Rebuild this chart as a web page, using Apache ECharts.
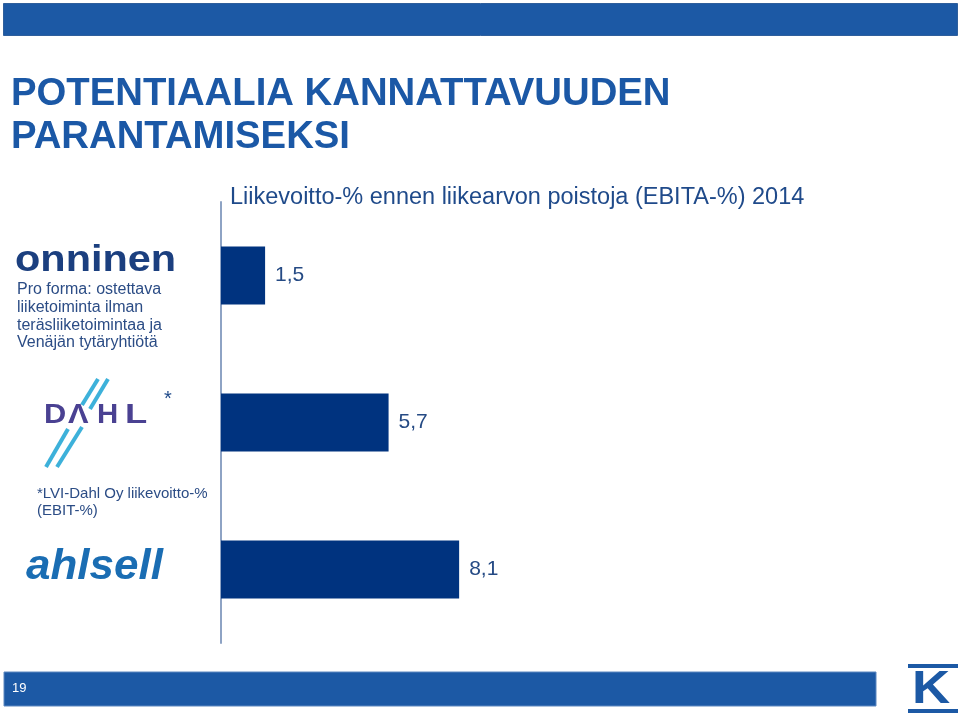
<!DOCTYPE html>
<html>
<head>
<meta charset="utf-8">
<script src="https://cdn.jsdelivr.net/npm/echarts@6/dist/echarts.min.js"></script>
<style>
html,body{margin:0;padding:0;background:#fff;}
#main{width:960px;height:716px;}
</style>
</head>
<body>
<div id="main"></div>
<script>
// Data
const categories = ['Onninen', 'LVI-Dahl', 'Ahlsell'];
const ebitaValues = [1.5, 5.7, 8.1];
const titleLines = ['POTENTIAALIA KANNATTAVUUDEN', 'PARANTAMISEKSI'];
const subtitleText = 'Liikevoitto-% ennen liikearvon poistoja (EBITA-%) 2014';
const onninenNote = ['Pro forma: ostettava', 'liiketoiminta ilman', 'teräsliiketoimintaa ja', 'Venäjän tytäryhtiötä'];
const dahlNote = ['*LVI-Dahl Oy liikevoitto-%', '(EBIT-%)'];
const pageNumber = '19';

const FONT = 'Liberation Sans, Arial, sans-serif';
const chart = echarts.init(document.getElementById('main'), null, {renderer: 'canvas'});

const option = {
  backgroundColor: '#ffffff',
  animation: false,
  title: {
    text: titleLines.join('\n'),
    left: 6,
    top: 68,
    textStyle: {
      fontFamily: FONT, fontSize: 38.3, fontWeight: 'bold', color: '#1b58a6', lineHeight: 43
    }
  },
  grid: {left: 221, top: 202, width: 588, height: 441, containLabel: false},
  xAxis: {
    type: 'value', min: 0, max: 20, show: false,
    splitLine: {show: false}
  },
  yAxis: {
    type: 'category', data: categories, inverse: true,
    axisLine: {show: true, lineStyle: {color: '#8ea3c4', width: 2}},
    axisTick: {show: false},
    axisLabel: {show: false}
  },
  series: [{
    type: 'bar',
    data: ebitaValues,
    barWidth: 58,
    itemStyle: {color: '#00337f'},
    label: {
      show: true, position: 'right', distance: 10,
      fontFamily: FONT, fontSize: 21, color: '#254a84',
      formatter: p => String(p.value).replace('.', ',')
    }
  }],
  graphic: [
    // top banner
    {type: 'rect', shape: {x: 3.5, y: 3.5, width: 954, height: 32},
     style: {fill: '#1c59a5', stroke: '#2f5f9c', lineWidth: 1}},
    // subtitle
    {type: 'text', left: 230, top: 186,
     style: {text: subtitleText, font: '23.5px ' + FONT, fill: '#1f4a8a'}},
    // onninen logo
    {type: 'text', x: 15, y: 242, scaleX: 1.12, scaleY: 1.02,
     style: {text: 'onninen', font: 'bold 37px ' + FONT, fill: '#1b3f7f'}},
    {type: 'text', x: 17, y: 281,
     style: {text: onninenNote.join('\n'), font: '16px ' + FONT, fill: '#2b4c85', lineHeight: 17.7}},
    // DAHL logo stripes
    {type: 'line', shape: {x1: 98, y1: 379, x2: 82, y2: 405}, style: {stroke: '#3db1da', lineWidth: 4}},
    {type: 'line', shape: {x1: 108, y1: 379, x2: 90, y2: 409}, style: {stroke: '#3db1da', lineWidth: 4}},
    {type: 'line', shape: {x1: 68, y1: 429, x2: 46, y2: 467}, style: {stroke: '#3db1da', lineWidth: 4}},
    {type: 'line', shape: {x1: 82, y1: 427, x2: 57, y2: 467}, style: {stroke: '#3db1da', lineWidth: 4}},
    {type: 'text', x: 44, y: 401, scaleX: 1.1, style: {text: 'D', font: 'bold 28px ' + FONT, fill: '#4a4192'}},
    {type: 'text', x: 68, y: 401, scaleX: 1.1, style: {text: 'Λ', font: 'bold 28px ' + FONT, fill: '#4a4192'}},
    {type: 'text', x: 97, y: 401, scaleX: 1.05, style: {text: 'H', font: 'bold 28px ' + FONT, fill: '#4a4192'}},
    {type: 'text', x: 125, y: 401, scaleX: 1.3, style: {text: 'L', font: 'bold 28px ' + FONT, fill: '#4a4192'}},
    {type: 'text', x: 164, y: 389, style: {text: '*', font: '20px ' + FONT, fill: '#1f4a8a'}},
    {type: 'text', x: 37, y: 485,
     style: {text: dahlNote.join('\n'), font: '15px ' + FONT, fill: '#2b4c85', lineHeight: 17.5}},
    // ahlsell logo
    {type: 'text', x: 26, y: 546, scaleX: 1.1, scaleY: 1.05,
     style: {text: 'ahlsell', font: 'italic bold 40px ' + FONT, fill: '#1a6db3'}},
    // bottom banner
    {type: 'rect', shape: {x: 4, y: 672, width: 872, height: 34},
     style: {fill: '#1c59a5', stroke: '#5c88c0', lineWidth: 1}},
    {type: 'text', x: 12, y: 682, style: {text: pageNumber, font: '13px ' + FONT, fill: '#ffffff'}},
    // K logo
    {type: 'rect', shape: {x: 908, y: 664, width: 50, height: 4}, style: {fill: '#1c59a5'}},
    {type: 'rect', shape: {x: 908, y: 709, width: 50, height: 4}, style: {fill: '#1c59a5'}},
    {type: 'text', x: 912, y: 667, scaleX: 1.15, style: {text: 'K', font: 'bold 46px ' + FONT, fill: '#1c59a5'}}
  ]
};
chart.setOption(option);
</script>
</body>
</html>
